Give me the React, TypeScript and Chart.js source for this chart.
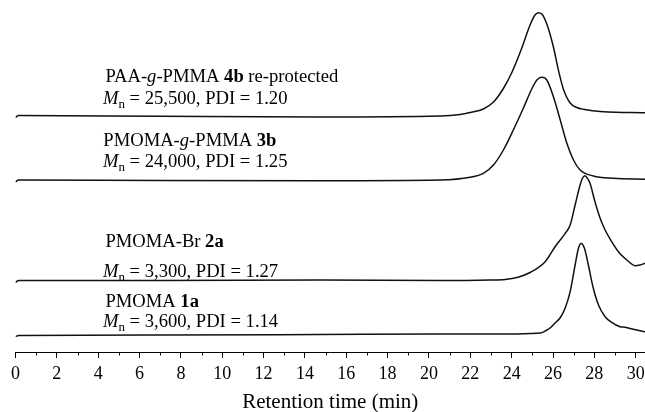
import React, { useEffect, useRef } from "react";
import { Chart, registerables } from "chart.js";

Chart.register(...registerables);

const FONT = "'Liberation Serif', 'Times New Roman', serif";

// ---- x axis ----
const X_MIN = 0;
const X_MAX = 30.45;
const X_MAJOR_STEP = 2;
const X_MINOR_STEP = 1;
const X_TITLE = "Retention time (min)";

// ---- traces: retention time (min) and detector signal relative to each trace's baseline ----
// PAA-g-PMMA 4b re-protected
const time4b = [0, 0.15, 6.99, 14.73, 20.54, 21.5, 21.99, 22.63, 23.12, 23.6, 24.02, 24.49, 24.89, 25.13, 25.29, 25.46, 25.7, 26.02, 26.26, 26.5, 26.83, 27.15, 27.47, 28.44, 30.45];
const signal4b = [-1.5, 0.5, -0.3, -1, 0, 1.5, 3.5, 7, 14, 27.5, 44, 68, 91, 101, 103.3, 102, 92, 69, 46, 27, 13, 8.5, 6.7, 4.3, 3.3];
const offset4b = 236;

// PMOMA-g-PMMA 3b
const time3b = [0, 0.15, 6.99, 14.73, 20.54, 21.99, 22.63, 23.12, 23.6, 24.08, 24.57, 24.97, 25.22, 25.46, 25.7, 26.02, 26.35, 26.67, 26.99, 27.31, 27.95, 28.92, 30.45];
const signal3b = [-2, 0, -0.5, -0.7, 0, 2.7, 6.7, 15, 30, 50, 72, 91, 100, 102.7, 100, 83.3, 60, 36.7, 20, 10, 4, 1.7, 0.7];
const offset3b = 172;

// PMOMA-Br 2a
const time2a = [0, 0.15, 6.99, 14.73, 20.54, 22.96, 23.68, 24.31, 24.89, 25.62, 26.1, 26.59, 26.83, 27.07, 27.31, 27.43, 27.55, 27.67, 27.79, 28.03, 28.28, 28.52, 28.84, 29.16, 29.57, 29.97, 30.21, 30.45];
const signal2a = [-2, 0, 0, 0.5, 0, 0.5, 1, 3.3, 8, 18.8, 33.8, 47.2, 55.5, 75.5, 95.5, 102.5, 104.8, 102, 97.2, 78.8, 62.2, 50.5, 38.8, 28.8, 20.5, 14.8, 15.5, 17.2];
const offset2a = 71.5;

// PMOMA 1a
const time1a = [0, 0.15, 6.99, 14.73, 20.54, 23.44, 24.89, 25.38, 25.62, 25.86, 26.1, 26.34, 26.59, 26.83, 27.07, 27.23, 27.36, 27.52, 27.71, 27.95, 28.2, 28.52, 28.84, 29.24, 29.49, 29.89, 30.45];
const signal1a = [-1.5, -0.5, 0, 0.5, 1, 1, 1.5, 2, 4, 7, 12, 17, 27, 43.3, 70, 86.7, 91.5, 86.7, 70, 46.7, 30, 18.3, 12.7, 8.3, 7.7, 5.7, 3.3];
const offset1a = 17;

// vertical extent of the (hidden) signal axis
const Y_MIN = 0;
const Y_MAX = 352;

// ---- sample labels: [text, style] runs; style r=roman, i=italic, b=bold, s=subscript ----
type Run = [string, "r" | "i" | "b" | "s"];
const labelName4b: Run[] = [["PAA-", "r"], ["g", "i"], ["-PMMA ", "r"], ["4b", "b"], [" re-protected", "r"]];
const labelMn4b: Run[] = [["M", "i"], ["n", "s"], [" = 25,500, PDI = 1.20", "r"]];
const labelName3b: Run[] = [["PMOMA-", "r"], ["g", "i"], ["-PMMA ", "r"], ["3b", "b"]];
const labelMn3b: Run[] = [["M", "i"], ["n", "s"], [" = 24,000, PDI = 1.25", "r"]];
const labelName2a: Run[] = [["PMOMA-Br ", "r"], ["2a", "b"]];
const labelMn2a: Run[] = [["M", "i"], ["n", "s"], [" = 3,300, PDI = 1.27", "r"]];
const labelName1a: Run[] = [["PMOMA ", "r"], ["1a", "b"]];
const labelMn1a: Run[] = [["M", "i"], ["n", "s"], [" = 3,600, PDI = 1.14", "r"]];

// label anchors in data units (time, signal baseline)
const LABELS: { x: number; y: number; runs: Run[] }[] = [
  { x: 4.35, y: 270.3, runs: labelName4b },
  { x: 4.23, y: 247.7, runs: labelMn4b },
  { x: 4.25, y: 206.3, runs: labelName3b },
  { x: 4.23, y: 185.3, runs: labelMn3b },
  { x: 4.35, y: 104.7, runs: labelName2a },
  { x: 4.23, y: 74.7, runs: labelMn2a },
  { x: 4.35, y: 44.7, runs: labelName1a },
  { x: 4.23, y: 25.3, runs: labelMn1a },
];

const TRACES = [
  { time: time4b, signal: signal4b, offset: offset4b },
  { time: time3b, signal: signal3b, offset: offset3b },
  { time: time2a, signal: signal2a, offset: offset2a },
  { time: time1a, signal: signal1a, offset: offset1a },
];

const gpcPlugin = {
  id: "gpcExtras",
  afterDraw(chart: any) {
    const { ctx } = chart;
    const xs = chart.scales.x;
    const ys = chart.scales.y;
    ctx.save();
    // minor ticks
    ctx.strokeStyle = "#000";
    ctx.lineWidth = 1;
    ctx.beginPath();
    for (let v = X_MIN + X_MINOR_STEP; v < X_MAX; v += X_MAJOR_STEP) {
      const px = Math.round(xs.getPixelForValue(v)) + 0.5;
      ctx.moveTo(px, xs.top);
      ctx.lineTo(px, xs.top + 3.5);
    }
    ctx.stroke();
    // labels
    ctx.fillStyle = "#000";
    ctx.textBaseline = "alphabetic";
    ctx.textAlign = "left";
    for (const lab of LABELS) {
      let px = xs.getPixelForValue(lab.x);
      const py = ys.getPixelForValue(lab.y);
      for (const [text, st] of lab.runs) {
        const sub = st === "s";
        const size = sub ? 13 : 18.6;
        ctx.font = `${st === "i" ? "italic " : ""}${st === "b" ? "bold " : ""}${size}px ${FONT}`;
        ctx.fillText(text, px, py + (sub ? 4 : 0));
        px += ctx.measureText(text).width;
      }
    }
    ctx.restore();
  },
};

export default function App() {
  const ref = useRef<HTMLCanvasElement | null>(null);
  useEffect(() => {
    if (!ref.current) return;
    const datasets = TRACES.map((tr) => ({
      data: tr.time.map((t, i) => ({ x: t, y: tr.signal[i] + tr.offset })),
      borderColor: "#111",
      borderWidth: 1.5,
      pointRadius: 0,
      fill: false,
      cubicInterpolationMode: "monotone" as const,
    }));
    const chart = new Chart(ref.current, {
      type: "line",
      data: { datasets },
      options: {
        animation: false,
        responsive: true,
        maintainAspectRatio: false,
        events: [],
        layout: { padding: { left: 15.5, right: 0, top: 0, bottom: 0 } },
        plugins: { legend: { display: false }, tooltip: { enabled: false } },
        scales: {
          x: {
            type: "linear",
            min: X_MIN,
            max: X_MAX,
            position: "bottom",
            afterFit: (scale: any) => {
              scale.height = 60;
              scale.paddingLeft = 0;
              scale.paddingRight = 0;
            },
            border: { display: true, color: "#000", width: 1 },
            grid: { drawOnChartArea: false, drawTicks: true, tickLength: 6, color: "#000", lineWidth: 1 },
            ticks: {
              stepSize: X_MAJOR_STEP,
              includeBounds: false,
              autoSkip: false,
              maxRotation: 0,
              padding: 5,
              color: "#000",
              font: { family: FONT, size: 18 },
            },
            title: {
              display: true,
              text: X_TITLE,
              color: "#000",
              font: { family: FONT, size: 21, lineHeight: 0.86 },
              padding: 0,
            },
          },
          y: { type: "linear", display: false, min: Y_MIN, max: Y_MAX },
        },
      },
      plugins: [gpcPlugin],
    });
    return () => chart.destroy();
  }, []);
  return (
    <div style={{ position: "fixed", left: 0, top: 0, width: 645, height: 412, background: "#fff" }}>
      <canvas ref={ref} />
    </div>
  );
}
